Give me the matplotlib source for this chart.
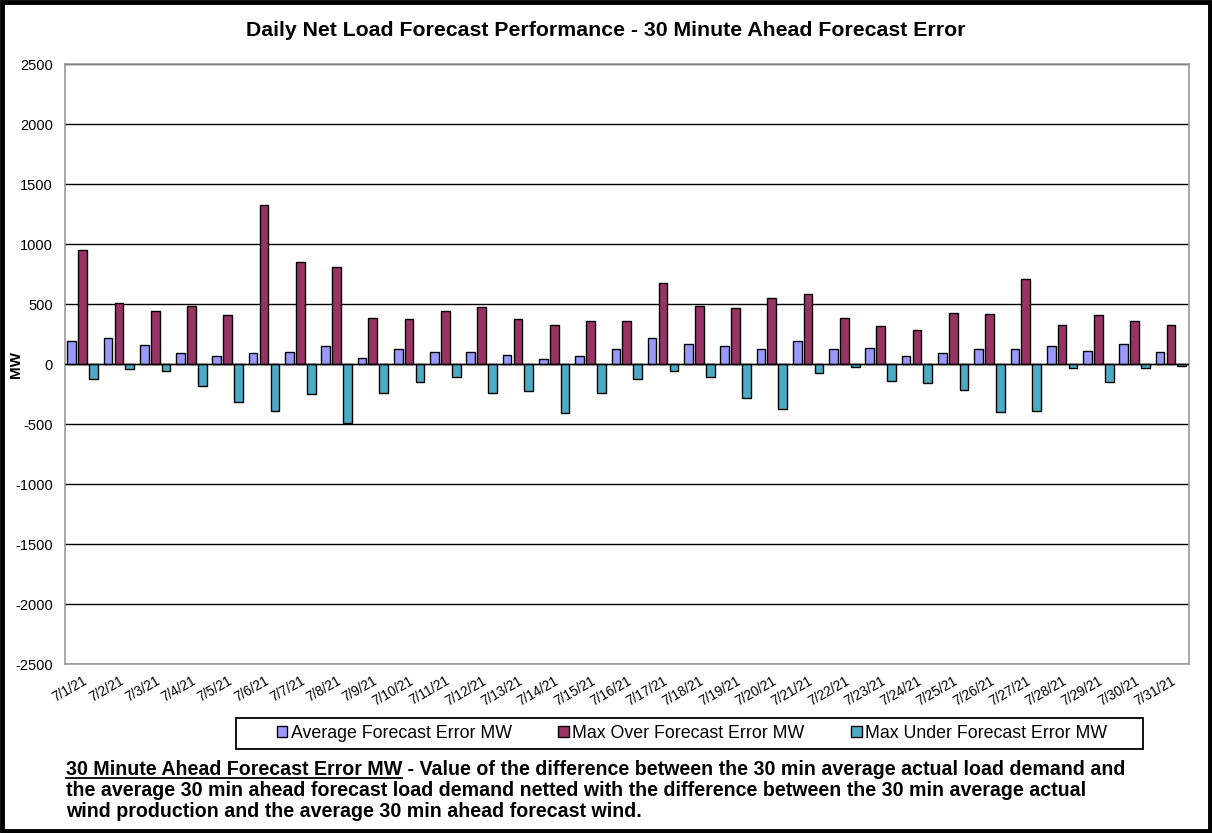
import matplotlib
matplotlib.use("Agg")
import matplotlib.pyplot as plt
import numpy as np
from matplotlib.patches import Rectangle
from matplotlib.lines import Line2D

plt.rcParams['font.family'] = ['Liberation Sans', 'DejaVu Sans']

dates = [f"7/{d}/21" for d in range(1, 32)]
avg_err = [189, 214, 158, 89, 67, 89, 100, 147, 53, 122, 100, 100, 78, 42, 67, 122,
           214, 170, 147, 122, 192, 122, 133, 67, 89, 122, 122, 147, 111, 170, 100]
max_over = [948, 506, 439, 486, 406, 1323, 848, 812, 384, 372, 439, 475, 372, 325, 359, 359,
            676, 486, 464, 553, 587, 384, 317, 281, 428, 417, 712, 325, 406, 359, 325]
max_under = [-128, -39, -61, -186, -320, -389, -253, -495, -242, -150, -106, -242, -228, -411, -242, -128,
             -58, -106, -286, -378, -72, -25, -139, -161, -220, -400, -389, -36, -150, -36, -14]

series_names = ["Average Forecast Error MW", "Max Over Forecast Error MW", "Max Under Forecast Error MW"]
colors = ["#9999FF", "#993366", "#4BACC6"]

W, H = 1212, 833
fig = plt.figure(figsize=(W / 100, H / 100), dpi=100)
ax = fig.add_axes([64.5 / W, 1 - 664 / H, (1189 - 64.5) / W, 600 / H])

x = np.arange(len(dates))
bw = 0.24
offs = [-0.3, 0.0, 0.3]
for vals, c, o, n in zip([avg_err, max_over, max_under], colors, offs, series_names):
    ax.bar(x + o, vals, width=bw, color=c, edgecolor='black', linewidth=1.0, label=n, zorder=3)

ax.set_xlim(-0.5, len(dates) - 0.5)
ax.set_ylim(-2500, 2500)
ax.set_yticks(np.arange(-2500, 2501, 500))
ax.set_yticklabels([str(v) for v in range(-2500, 2501, 500)], fontsize=10.5)
ax.yaxis.grid(True, color='black', linewidth=1.0, zorder=0)
ax.axhline(0, color='black', linewidth=1.0, zorder=4)
ax.tick_params(axis='y', length=0, pad=8.5)
ax.tick_params(axis='x', length=0, pad=7)
ax.set_xticks(x)
ax.set_xticklabels(dates, fontsize=9.8, rotation=30, ha='right', rotation_mode='anchor')
for s in ax.spines.values():
    s.set_color('#999999')
    s.set_linewidth(1.2)

fig.text(16 / W, 1 - 364 / H, "MW", rotation=90, ha='center', va='center',
         fontsize=11, fontweight='bold')

fig.text(0.5, 1 - 30 / H, "Daily Net Load Forecast Performance - 30 Minute Ahead Forecast Error",
         ha='center', va='center', fontsize=15.3, fontweight='bold')

# legend with box
fig.add_artist(Rectangle((236 / W, 1 - 749 / H), (1143 - 236) / W, 31 / H, transform=fig.transFigure,
                         fill=False, edgecolor='black', linewidth=1.3))
leg = fig.legend(loc='center', bbox_to_anchor=(692 / W, 1 - 733 / H), ncol=3,
                 fontsize=12.8, frameon=False,
                 handlelength=0.6, handleheight=0.6, handletextpad=0.2, columnspacing=2.6,
                 borderpad=0.2)

# footer text with underline
fs = 14.1
renderer = fig.canvas.get_renderer()
y1 = 1 - 775 / H
t1 = fig.text(66 / W, y1, "30 Minute Ahead Forecast Error MW", fontsize=fs, fontweight='bold',
              ha='left', va='baseline')
bb = t1.get_window_extent(renderer=renderer)
uy = (bb.y0 + 1) / H
fig.add_artist(Line2D([bb.x0 / W, bb.x1 / W], [uy, uy],
                      color='black', linewidth=1.3, transform=fig.transFigure))
fig.text(bb.x1 / W, y1, " - Value of the difference between the 30 min average actual load demand and",
         fontsize=fs, fontweight='bold', ha='left', va='baseline')
fig.text(66 / W, 1 - 796 / H,
         "the average 30 min ahead forecast load demand netted with the difference between the 30 min average actual",
         fontsize=fs, fontweight='bold', ha='left', va='baseline')
fig.text(66 / W, 1 - 817 / H,
         "wind production and the average 30 min ahead forecast wind.",
         fontsize=fs, fontweight='bold', ha='left', va='baseline')

# figure border
fig.add_artist(Rectangle((2 / W, 2 / H), 1 - 4 / W, 1 - 4 / H, transform=fig.transFigure,
                         fill=False, edgecolor='black', linewidth=3.5))

fig.savefig("out.png", dpi=100)
